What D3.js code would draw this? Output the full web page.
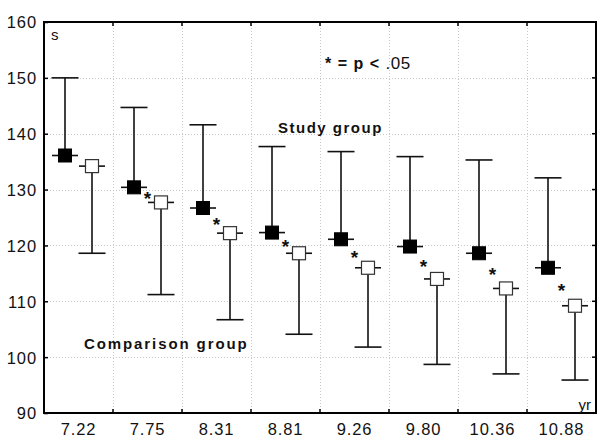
<!DOCTYPE html>
<html>
<head>
<meta charset="utf-8">
<script src="https://cdn.jsdelivr.net/npm/d3@7"></script>
<style>
  body { margin: 0; background: #fff; }
  svg { display: block; font-family: "Liberation Sans", Arial, sans-serif; }
</style>
</head>
<body>
<div id="chart"></div>
<script>
// ages (yr) along the x axis
const ages = ['7.22', '7.75', '8.31', '8.81', '9.26', '9.80', '10.36', '10.88'];

// study group: mean and upper bar (s)
const studyMean = [136.1, 130.4, 126.7, 122.3, 121.1, 119.8, 118.6, 116.0];
const studyUpper = [150.0, 144.7, 141.6, 137.7, 136.8, 135.9, 135.3, 132.1];

// comparison group: mean and lower bar (s)
const compMean = [134.2, 127.7, 122.2, 118.6, 116.0, 114.0, 112.3, 109.2];
const compLower = [118.6, 111.2, 106.7, 104.1, 101.8, 98.7, 97.0, 95.9];

// which ages differ at p < .05
const significant = [false, true, true, true, true, true, true, true];

const yTicks = [90, 100, 110, 120, 130, 140, 150, 160];

const W = 597, H = 439;
const margin = {left: 44, right: 1, top: 22, bottom: 26};

const svg = d3.select('#chart').append('svg')
    .attr('width', W).attr('height', H);

const x = d3.scaleBand()
    .domain(ages)
    .range([margin.left, W - margin.right])
    .padding(0);

const y = d3.scaleLinear()
    .domain([90, 160])
    .range([H - margin.bottom, margin.top]);

const x0 = margin.left, x1 = W - margin.right;
const y0 = H - margin.bottom, y1 = margin.top;

// grid lines (dotted)
const grid = svg.append('g')
    .attr('stroke', '#c8c8c8')
    .attr('stroke-width', 1)
    .attr('stroke-dasharray', '1,2');

grid.selectAll('line.h').data(yTicks.slice(1, -1)).join('line')
    .attr('class', 'h')
    .attr('x1', x0).attr('x2', x1)
    .attr('y1', d => Math.round(y(d)) + 0.5).attr('y2', d => Math.round(y(d)) + 0.5);

grid.selectAll('line.v').data(ages.slice(1)).join('line')
    .attr('class', 'v')
    .attr('x1', d => Math.round(x(d)) + 0.5).attr('x2', d => Math.round(x(d)) + 0.5)
    .attr('y1', y1).attr('y2', y0);

// axes
const yAxis = svg.append('g')
    .attr('transform', `translate(${x0},0)`)
    .call(d3.axisLeft(y).tickValues(yTicks).tickSize(-4).tickPadding(7));

const xAxis = svg.append('g')
    .attr('transform', `translate(0,${y0})`)
    .call(d3.axisBottom(x).tickSize(0).tickPadding(10));

// boundary ticks on the bottom axis (between categories)
svg.append('g').selectAll('line').data(ages.slice(1)).join('line')
    .attr('x1', d => x(d)).attr('x2', d => x(d))
    .attr('y1', y0).attr('y2', y0 - 4)
    .attr('stroke', '#000').attr('stroke-width', 1.5);

// mirror ticks on top and right
svg.append('g').selectAll('line').data(ages.slice(1)).join('line')
    .attr('x1', d => x(d)).attr('x2', d => x(d))
    .attr('y1', y1).attr('y2', y1 + 4)
    .attr('stroke', '#000').attr('stroke-width', 1.5);
svg.append('g').selectAll('line').data(yTicks.slice(1, -1)).join('line')
    .attr('x1', x1).attr('x2', x1 - 4)
    .attr('y1', d => y(d)).attr('y2', d => y(d))
    .attr('stroke', '#000').attr('stroke-width', 1.5);

[yAxis, xAxis].forEach(g => {
    g.select('.domain').remove();
    g.selectAll('text')
        .attr('font-size', 16.5)
        .attr('letter-spacing', '0.9px')
        .attr('fill', '#111');
    g.selectAll('line').attr('stroke', '#000').attr('stroke-width', 1.5);
});
yAxis.selectAll('text').attr('dy', '0.36em');

// frame
svg.append('rect')
    .attr('x', x0).attr('y', y1)
    .attr('width', x1 - x0).attr('height', y0 - y1)
    .attr('fill', 'none').attr('stroke', '#000').attr('stroke-width', 2);

const off = 13.5, cap = 13.5, half = 13, box = 13;

const rows = ages.map((a, i) => ({
    age: a,
    sMean: studyMean[i], sUp: studyUpper[i],
    cMean: compMean[i], cLow: compLower[i],
    sig: significant[i]
}));

const bars = svg.append('g')
    .attr('stroke', '#111')
    .attr('stroke-width', 1.6)
    .attr('fill', 'none');

rows.forEach(r => {
    const cx = x(r.age) + x.bandwidth() / 2;
    const sx = cx - off, kx = cx + off;

    // study group: whisker upward
    bars.append('line')
        .attr('x1', sx).attr('x2', sx)
        .attr('y1', y(r.sMean)).attr('y2', y(r.sUp));
    bars.append('line')
        .attr('x1', sx - cap).attr('x2', sx + cap)
        .attr('y1', y(r.sUp)).attr('y2', y(r.sUp));
    bars.append('line')
        .attr('x1', sx - half).attr('x2', sx + half)
        .attr('y1', y(r.sMean)).attr('y2', y(r.sMean));
    bars.append('rect')
        .attr('x', sx - box / 2).attr('y', y(r.sMean) - box / 2)
        .attr('width', box).attr('height', box)
        .attr('fill', '#000').attr('stroke', '#000').attr('stroke-width', 1);

    // comparison group: whisker downward
    bars.append('line')
        .attr('x1', kx).attr('x2', kx)
        .attr('y1', y(r.cMean)).attr('y2', y(r.cLow));
    bars.append('line')
        .attr('x1', kx - cap).attr('x2', kx + cap)
        .attr('y1', y(r.cLow)).attr('y2', y(r.cLow));
    bars.append('line')
        .attr('x1', kx - half).attr('x2', kx + half)
        .attr('y1', y(r.cMean)).attr('y2', y(r.cMean));
    bars.append('rect')
        .attr('x', kx - box / 2).attr('y', y(r.cMean) - box / 2)
        .attr('width', box).attr('height', box)
        .attr('fill', '#fff').attr('stroke', '#333').attr('stroke-width', 1.2);

    if (r.sig) {
        svg.append('text')
            .attr('x', cx).attr('y', y((r.sMean + r.cMean) / 2) + 10)
            .attr('text-anchor', 'middle')
            .attr('font-size', 19).attr('font-weight', 'bold')
            .attr('fill', '#111')
            .text('*');
    }
});

// annotations
svg.append('text')
    .attr('x', 51).attr('y', 40)
    .attr('font-size', 15).attr('fill', '#111')
    .text('s');

svg.append('text')
    .attr('x', 591).attr('y', 410)
    .attr('text-anchor', 'end')
    .attr('font-size', 15).attr('fill', '#111')
    .text('yr');

const pText = svg.append('text')
    .attr('x', 325).attr('y', 69)
    .attr('font-size', 16).attr('fill', '#111');
pText.append('tspan').attr('font-weight', 'bold').attr('letter-spacing', '1px').text('* = p < ');
pText.append('tspan').attr('font-size', 17).attr('letter-spacing', '0.5px').text('.05');

svg.append('text')
    .attr('x', 278).attr('y', 133)
    .attr('font-size', 15).attr('font-weight', 'bold')
    .attr('letter-spacing', '1.5px').attr('fill', '#111')
    .text('Study group');

svg.append('text')
    .attr('x', 84).attr('y', 349)
    .attr('font-size', 15).attr('font-weight', 'bold')
    .attr('letter-spacing', '1.9px').attr('fill', '#111')
    .text('Comparison group');
</script>
</body>
</html>
